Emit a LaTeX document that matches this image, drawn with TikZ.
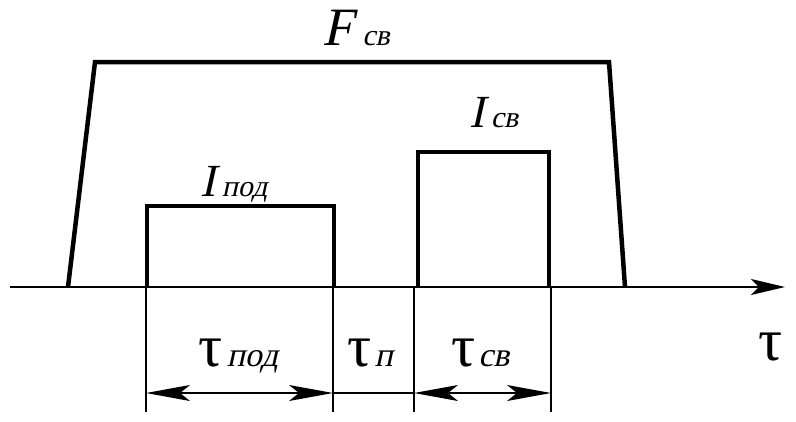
\documentclass[tikz,border=0pt]{standalone}
\usepackage{fontspec}
\newfontfamily\rmx{Liberation Serif}
\usetikzlibrary{arrows.meta}
\tikzset{
  heavy/.style={line width=4.5pt, line join=miter},
  dim/.style={line width=1.6pt},
  lbl/.style={inner sep=0pt, anchor=base, font=\rmx},
  sl/.style={xslant=0.22, transform shape},
  dimarrow/.style={line width=1.6pt, {Stealth[length=44pt,width=16pt,inset=10pt]}-{Stealth[length=44pt,width=16pt,inset=10pt]}}
}
\newcommand{\slsub}[1]{\tikz[baseline]\node[inner sep=0pt,anchor=base,xslant=0.22,transform shape,font=\rmx]{\fontsize{34}{34}\selectfont #1};}
\begin{document}
\begin{tikzpicture}[x=1pt,y=-1pt]
\useasboundingbox[fill=white] (0,0) rectangle (796,421);
% axis
\coordinate (ax0) at (10,287);
\coordinate (ax1) at (785,287);
\draw[line width=2pt, -{Stealth[length=34pt,width=16pt,inset=8pt]}] (ax0) -- (ax1);
% F trapezoid
\coordinate (f1) at (68,287);
\coordinate (f2) at (95,62);
\coordinate (f3) at (609,62);
\coordinate (f4) at (625,287);
\draw[heavy] (f1) -- (f2) -- (f3) -- (f4);
% I pod
\coordinate (p1) at (147,287);
\coordinate (p2) at (147,206);
\coordinate (p3) at (334,206);
\coordinate (p4) at (334,287);
\draw[heavy] (p1) -- (p2) -- (p3) -- (p4);
% I sv
\coordinate (s1) at (418,287);
\coordinate (s2) at (418,152);
\coordinate (s3) at (549,152);
\coordinate (s4) at (549,287);
\draw[heavy] (s1) -- (s2) -- (s3) -- (s4);
% dimension verticals
\coordinate (d1t) at (146,287); \coordinate (d1b) at (146,412);
\coordinate (d2t) at (333,287); \coordinate (d2b) at (333,412);
\coordinate (d3t) at (414,287); \coordinate (d3b) at (414,412);
\coordinate (d4t) at (551,287); \coordinate (d4b) at (551,412);
\draw[dim] (d1t) -- (d1b) (d2t) -- (d2b) (d3t) -- (d3b) (d4t) -- (d4b);
\coordinate (a1) at (146,393); \coordinate (a2) at (333,393);
\coordinate (a3) at (414,393); \coordinate (a4) at (551,393);
\draw[dimarrow] (a1) -- (a2);
\draw[dim] (a2) -- (a3);
\draw[dimarrow] (a3) -- (a4);
% labels
\node[lbl,sl] (lf) at (356,45) {\fontsize{54}{54}\selectfont F\kern10pt\fontsize{30}{30}\selectfont св};
\node[lbl,sl] (lip) at (234,196) {\fontsize{46}{46}\selectfont I\kern6pt\fontsize{30}{30}\selectfont под};
\node[lbl,sl] (lis) at (494,127) {\fontsize{46}{46}\selectfont I\kern6pt\fontsize{30}{30}\selectfont св};
\node[lbl] (tp) at (240,366) {\fontsize{60}{60}\selectfont τ\kern3pt\slsub{под}};
\node[lbl] (tn) at (372,366) {\fontsize{60}{60}\selectfont τ\kern3pt\slsub{п}};
\node[lbl] (ts) at (482,366) {\fontsize{60}{60}\selectfont τ\kern3pt\slsub{св}};
\node[lbl] (tt) at (771,360) {\fontsize{60}{60}\selectfont τ};
\end{tikzpicture}
\end{document}
